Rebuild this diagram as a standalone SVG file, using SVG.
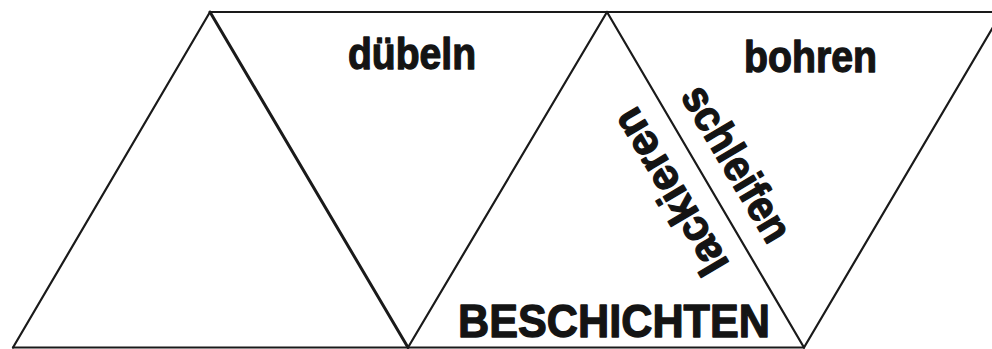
<svg xmlns="http://www.w3.org/2000/svg" width="992" height="349" viewBox="0 0 992 349">
<style>
.ln{stroke:#1a1a1a;stroke-width:2.2;fill:none;stroke-linecap:round;stroke-linejoin:round}
.lb{font-family:"Liberation Sans",Arial,sans-serif;font-weight:bold;fill:#141414;stroke:#141414;stroke-width:1.3;stroke-linejoin:round}
</style>
<rect width="992" height="349" fill="#ffffff"/>
<g id="connectors">
<line class="ln" x1="210" y1="12" x2="992" y2="12"/>
<line class="ln" x1="13" y1="347.5" x2="804" y2="347.5"/>
<line class="ln" x1="13" y1="347.5" x2="210" y2="12"/>
<line class="ln" x1="210" y1="12" x2="408" y2="347.5" style="stroke-width:3"/>
<line class="ln" x1="408" y1="347.5" x2="607" y2="12"/>
<line class="ln" x1="607" y1="12" x2="804" y2="347.5"/>
<line class="ln" x1="804" y1="347.5" x2="1002" y2="12"/>
</g>
<g id="duebeln"><text class="lb" x="348" y="69" font-size="44" textLength="128" lengthAdjust="spacingAndGlyphs">dübeln</text></g>
<g id="bohren"><text class="lb" x="744" y="72" font-size="44" textLength="133" lengthAdjust="spacingAndGlyphs">bohren</text></g>
<g id="beschichten"><text class="lb" x="458" y="337" font-size="47" textLength="312" lengthAdjust="spacingAndGlyphs">BESCHICHTEN</text></g>
<g id="schleifen"><text class="lb" transform="translate(680,96) rotate(59.5)" font-size="44" textLength="174" lengthAdjust="spacingAndGlyphs">schleifen</text></g>
<g id="lackieren"><text class="lb" transform="translate(730,264) rotate(-120.5)" font-size="44" textLength="185" lengthAdjust="spacingAndGlyphs">lackieren</text></g>
</svg>
